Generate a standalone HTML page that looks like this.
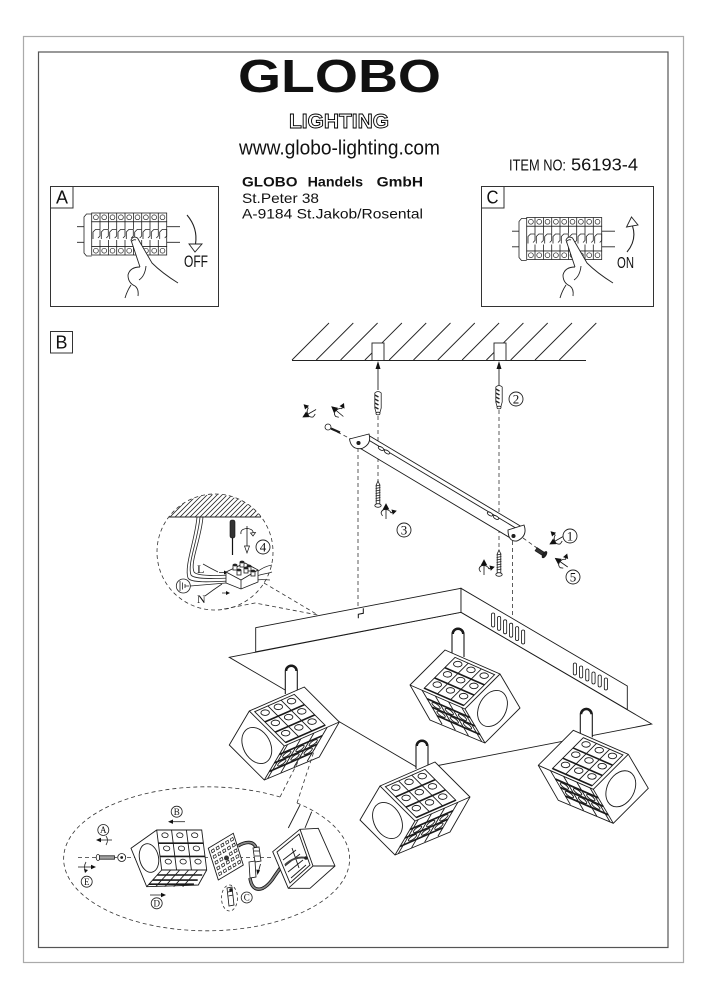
<!DOCTYPE html>
<html><head><meta charset="utf-8">
<style>
html,body{margin:0;padding:0;background:#fff;}
svg{display:block;}
text{font-family:"Liberation Sans",sans-serif;fill:#111;}
.sf{font-family:"Liberation Serif",serif;}
</style></head><body>
<svg width="706" height="1000" viewBox="0 0 706 1000" xmlns="http://www.w3.org/2000/svg">
<defs>
<clipPath id="segclip"><path d="M169,517 A58,58 0 0 1 261,517 Z"/></clipPath>
<g id="lamp" stroke="#1a1a1a" stroke-width="0.9" fill="none">
 <path d="M56,-51V-74A6,6 0 0 1 68,-74V-51" fill="#fff" stroke-width="1.1"/>
 <path d="M56.8,-74A5.2,5.2 0 0 1 67.2,-74" stroke-width="2.4"/>
 <polygon points="0,0 20,-34 75,-58 110,-23 90,12 35,35" fill="#fff"/>
 <polyline points="20,-34 55,1 110,-23"/>
 <line x1="55" y1="1" x2="35" y2="35"/>
 <g transform="matrix(20,-34,35,35,0,0)"><ellipse cx=".5" cy=".5" rx=".37" ry=".37" vector-effect="non-scaling-stroke"/></g>
 <g transform="matrix(55,-24,35,35,20,-34)">
  <rect x=".06" y=".06" width=".72" height=".88" vector-effect="non-scaling-stroke"/>
  <path d="M.06,.353H.78M.06,.646H.78M.06,.94H.78" stroke-width="1.6" vector-effect="non-scaling-stroke"/>
  <path d="M.30,.06V.94M.54,.06V.94" vector-effect="non-scaling-stroke"/>
  <ellipse cx=".18" cy=".17" rx=".065" ry=".065" vector-effect="non-scaling-stroke"/>
  <ellipse cx=".42" cy=".17" rx=".065" ry=".065" vector-effect="non-scaling-stroke"/>
  <ellipse cx=".66" cy=".17" rx=".065" ry=".065" vector-effect="non-scaling-stroke"/>
  <ellipse cx=".18" cy=".463" rx=".065" ry=".065" vector-effect="non-scaling-stroke"/>
  <ellipse cx=".42" cy=".463" rx=".065" ry=".065" vector-effect="non-scaling-stroke"/>
  <ellipse cx=".66" cy=".463" rx=".065" ry=".065" vector-effect="non-scaling-stroke"/>
  <ellipse cx=".18" cy=".756" rx=".065" ry=".065" vector-effect="non-scaling-stroke"/>
  <ellipse cx=".42" cy=".756" rx=".065" ry=".065" vector-effect="non-scaling-stroke"/>
  <ellipse cx=".66" cy=".756" rx=".065" ry=".065" vector-effect="non-scaling-stroke"/>
 </g>
 <g transform="matrix(55,-24,-20,34,55,1)">
  <path d="M0,.25H.78M0,.5H.78M0,.75H.78" stroke-width="1.7" vector-effect="non-scaling-stroke"/>
  <path d="M.06,0V1M.30,0V1M.54,0V1M.78,0V1" vector-effect="non-scaling-stroke"/>
  <ellipse cx=".18" cy=".37" rx=".07" ry=".08" vector-effect="non-scaling-stroke"/>
  <ellipse cx=".42" cy=".37" rx=".07" ry=".08" vector-effect="non-scaling-stroke"/>
  <ellipse cx=".66" cy=".37" rx=".07" ry=".08" vector-effect="non-scaling-stroke"/>
  <ellipse cx=".18" cy=".62" rx=".07" ry=".08" vector-effect="non-scaling-stroke"/>
  <ellipse cx=".42" cy=".62" rx=".07" ry=".08" vector-effect="non-scaling-stroke"/>
  <ellipse cx=".66" cy=".62" rx=".07" ry=".08" vector-effect="non-scaling-stroke"/>
 </g>
</g>
<g id="strip" stroke="#222" stroke-width="0.8" fill="none">
 <rect x="91.7" y="221.7" width="75" height="24.8" fill="#fff"/>
 <rect x="91.7" y="213" width="75" height="8.7" fill="#fff"/>
 <rect x="91.7" y="246.5" width="75" height="8.5" fill="#fff"/>
 <path d="M100,213V229M108.4,213V229M116.7,213V229M125,213V229M133.4,213V229M141.7,213V229M150,213V229M158.3,213V229"/>
 <path d="M100,240V255M108.4,240V255M116.7,240V255M125,240V255M133.4,240V255M141.7,240V255M150,240V255M158.3,240V255"/>
 <g stroke-width="0.7">
 <circle cx="95.9" cy="217.3" r="2.4"/><circle cx="104.2" cy="217.3" r="2.4"/><circle cx="112.5" cy="217.3" r="2.4"/><circle cx="120.9" cy="217.3" r="2.4"/><circle cx="129.2" cy="217.3" r="2.4"/><circle cx="137.5" cy="217.3" r="2.4"/><circle cx="145.9" cy="217.3" r="2.4"/><circle cx="154.2" cy="217.3" r="2.4"/><circle cx="162.5" cy="217.3" r="2.4"/>
 <circle cx="95.9" cy="250.7" r="2.4"/><circle cx="104.2" cy="250.7" r="2.4"/><circle cx="112.5" cy="250.7" r="2.4"/><circle cx="120.9" cy="250.7" r="2.4"/><circle cx="129.2" cy="250.7" r="2.4"/><circle cx="137.5" cy="250.7" r="2.4"/><circle cx="145.9" cy="250.7" r="2.4"/><circle cx="154.2" cy="250.7" r="2.4"/><circle cx="162.5" cy="250.7" r="2.4"/>
 </g>
 <path d="M93,239V232L95.5,229.5H100V236L98,238M101.3,239V232L103.8,229.5H108.3V236L106.3,238M109.7,239V232L112.2,229.5H116.7V236L114.7,238M118,239V232L120.5,229.5H125V236L123,238M126.3,239V232L128.8,229.5H133.3V236L131.3,238M134.7,239V232L137.2,229.5H141.7V236L139.7,238M143,239V232L145.5,229.5H150V236L148,238M151.3,239V232L153.8,229.5H158.3V236L156.3,238M159.7,239V232L162.2,229.5H166.7V236L164.7,238"/>
 <path d="M91.7,214H86.5L84,217V253L86.5,256H91.7"/>
 <path d="M77,226.7H84M77,242.3H84M166.7,226.7H180M166.7,242.3H180"/>
</g>
<g id="hand" stroke="#222" stroke-width="0.9" fill="none">
 <path d="M131,240 Q133,235.5 137.5,238 L152,263 Q162,273 178,283 L178,300 L124,300 Q126,291 131,285 Q127,281 128,275 Q130,267 140,267 Z" fill="#fff" stroke="none"/>
 <path d="M140,267 L131,240 Q133,235.5 137.5,238 L152,263 Q162,273 178,283"/>
 <path d="M140,267 Q130,267 128,275 Q128,283 135,286 M131,285 Q127,291 125,298 M146,266 Q145,276 139,280 M135,286 Q139,289 138,296"/>
 <path d="M132,241 Q134,239 136,240"/>
</g>
<g id="rot" stroke="#111" stroke-width="0.8" fill="none">
 <line x1="-7" y1="0" x2="5" y2="0"/>
 <path d="M8,0 L3,-2.6 L3,2.6 Z" fill="#111"/>
 <path d="M-1,-5 Q3,-4 2.5,0 Q2,4 -1,5"/>
 <path d="M-1,-5 L-4,-3.5 M-1,5 L1,8" />
 <path d="M-2,7 L1,10 L2,6 Z" fill="#111"/>
</g>
</defs>

<rect width="706" height="1000" fill="#fff"/>
<rect x="23.5" y="36.5" width="660" height="926" fill="none" stroke="#aaa" stroke-width="1.2"/>
<rect x="38.5" y="52" width="629.5" height="895.5" fill="none" stroke="#555" stroke-width="1.2"/>

<text x="238" y="92" font-size="46" font-weight="bold" textLength="203" lengthAdjust="spacingAndGlyphs">GLOBO</text>
<text x="289" y="128" font-size="20" font-weight="bold" style="fill:#fff" stroke="#000" stroke-width="0.9" textLength="100" lengthAdjust="spacingAndGlyphs">LIGHTING</text>
<text x="239" y="154.5" font-size="20" textLength="201" lengthAdjust="spacingAndGlyphs">www.globo-lighting.com</text>
<text x="509" y="170.7" font-size="16" textLength="57" lengthAdjust="spacingAndGlyphs">ITEM NO:</text>
<text x="571" y="170.7" font-size="17.5" textLength="67" lengthAdjust="spacingAndGlyphs">56193-4</text>
<text x="242" y="186.7" font-size="14.2" font-weight="bold" textLength="55.5" lengthAdjust="spacingAndGlyphs">GLOBO</text>
<text x="307.6" y="186.7" font-size="14.2" font-weight="bold" textLength="55.5" lengthAdjust="spacingAndGlyphs">Handels</text>
<text x="376.6" y="186.7" font-size="14.2" font-weight="bold" textLength="46.4" lengthAdjust="spacingAndGlyphs">GmbH</text>
<text x="242" y="203" font-size="14" textLength="77" lengthAdjust="spacingAndGlyphs">St.Peter 38</text>
<text x="242" y="218.7" font-size="14" textLength="181" lengthAdjust="spacingAndGlyphs">A-9184 St.Jakob/Rosental</text>

<rect x="50.5" y="186.5" width="168" height="120" fill="none" stroke="#333"/>
<rect x="50.5" y="186.5" width="22.5" height="21.5" fill="none" stroke="#333"/>
<text x="56" y="203.5" font-size="18" textLength="12" lengthAdjust="spacingAndGlyphs">A</text>
<use href="#strip"/>
<use href="#hand"/>
<path d="M187,215 Q198,228 195.5,244" fill="none" stroke="#222" stroke-width="1.1"/>
<polygon points="189,244 202,244 195,252" fill="#fff" stroke="#222" stroke-width="0.9"/>
<text x="184" y="267" font-size="16.5" textLength="24" lengthAdjust="spacingAndGlyphs">OFF</text>

<rect x="481.5" y="186.5" width="172" height="120" fill="none" stroke="#333"/>
<rect x="481.5" y="186.5" width="22.5" height="21.5" fill="none" stroke="#333"/>
<text x="486.5" y="203.5" font-size="18" textLength="12" lengthAdjust="spacingAndGlyphs">C</text>
<use href="#strip" transform="translate(435,4.5)"/>
<use href="#hand" transform="translate(435,0)"/>
<path d="M627,252 Q637,240 632.5,226" fill="none" stroke="#222" stroke-width="1.1"/>
<polygon points="626.5,227 638,225 631.5,217" fill="#fff" stroke="#222" stroke-width="0.9"/>
<text x="617" y="268" font-size="15.5" textLength="17" lengthAdjust="spacingAndGlyphs">ON</text>

<rect x="50.5" y="331.5" width="22" height="21.5" fill="none" stroke="#333"/>
<text x="55.5" y="348.5" font-size="18" textLength="12" lengthAdjust="spacingAndGlyphs">B</text>

<g stroke="#222" stroke-width="0.9" fill="none">
<path d="M292,360L329,323M316.3,360L353.3,323M340.6,360L377.6,323M364.9,360L401.9,323M389.2,360L426.2,323M413.5,360L450.5,323M437.8,360L474.8,323M462.1,360L499.1,323M486.4,360L523.4,323M510.7,360L547.7,323M535,360L572,323M559.3,360L596.3,323"/>
<line x1="292" y1="360.5" x2="586" y2="360.5"/>
<rect x="372" y="343" width="12" height="17.5" fill="#fff"/>
<rect x="494" y="343" width="12" height="17.5" fill="#fff"/>
<line x1="378" y1="390" x2="378" y2="367"/>
<line x1="499" y1="386" x2="499" y2="367"/>
</g>
<path d="M378,361 L375.5,369 L380.5,369 Z M499,361 L496.5,369 L501.5,369 Z" fill="#111"/>

<g stroke="#222" stroke-width="0.8" fill="#fff">
<g transform="translate(378,392)"><path d="M-3.2,1 Q0,-2 3.2,1 L3.2,16 L1.8,21 H-1.8 L-3.2,16 Z"/><path d="M-3.2,3 L0.5,5 M-3.2,7 L0.5,9 M-3.2,11 L0.5,13 M-3.2,15 L0.5,17" stroke-width="1.4"/><ellipse cy="21.5" rx="2" ry="1.3"/></g>
<g transform="translate(499,386)"><path d="M-3.2,1 Q0,-2 3.2,1 L3.2,16 L1.8,21 H-1.8 L-3.2,16 Z"/><path d="M-3.2,3 L0.5,5 M-3.2,7 L0.5,9 M-3.2,11 L0.5,13 M-3.2,15 L0.5,17" stroke-width="1.4"/><ellipse cy="21.5" rx="2" ry="1.3"/></g>
</g>

<g stroke="#333" stroke-width="0.8" fill="none" stroke-dasharray="4,3">
<line x1="378" y1="416" x2="378" y2="481"/>
<line x1="499" y1="410" x2="499" y2="549"/>
<line x1="358" y1="448" x2="358" y2="607"/>
<line x1="512.5" y1="541" x2="512.5" y2="617"/>
<line x1="331" y1="429" x2="351" y2="439"/>
<line x1="523" y1="538" x2="537" y2="548"/>
</g>

<g stroke="#1a1a1a" stroke-width="0.9" fill="#fff">
<polygon points="368,435 522,527 512,539 358,447"/>
<line x1="366" y1="438.5" x2="519" y2="530"/>
<path d="M349.5,439 L369,434 Q372,444 362,448.5 Q351,450 349.5,439 Z"/>
<circle cx="358.5" cy="443" r="1.6" fill="#222"/>
<path d="M508,530 L524,525 Q528,536 517,541 Q508,542 508,530 Z"/>
<circle cx="513.5" cy="536" r="1.6" fill="#222"/>
<ellipse cx="381" cy="448.5" rx="3" ry="1.5" transform="rotate(31 381 448.5)"/>
<ellipse cx="387" cy="452" rx="3" ry="1.5" transform="rotate(31 387 452)"/>
<ellipse cx="490" cy="514" rx="3" ry="1.5" transform="rotate(31 490 514)"/>
<ellipse cx="496" cy="517.5" rx="3" ry="1.5" transform="rotate(31 496 517.5)"/>
</g>

<g stroke="#1a1a1a" stroke-width="0.8" fill="#fff">
<g transform="translate(378,482)"><path d="M0,-1 L1.8,3 V22 H-1.8 V3 Z"/><path d="M-2.4,4 L2.4,3 M-2.4,6.5 L2.4,5.5 M-2.4,9 L2.4,8 M-2.4,11.5 L2.4,10.5 M-2.4,14 L2.4,13 M-2.4,16.5 L2.4,15.5 M-2.4,19 L2.4,18"/><ellipse cy="23.5" rx="3.2" ry="1.8"/></g>
<g transform="translate(499,551)"><path d="M0,-1 L1.8,3 V22 H-1.8 V3 Z"/><path d="M-2.4,4 L2.4,3 M-2.4,6.5 L2.4,5.5 M-2.4,9 L2.4,8 M-2.4,11.5 L2.4,10.5 M-2.4,14 L2.4,13 M-2.4,16.5 L2.4,15.5 M-2.4,19 L2.4,18"/><ellipse cy="23.5" rx="3.2" ry="1.8"/></g>
<g transform="translate(542,553) rotate(33)"><rect x="-7" y="-1.8" width="9" height="3.6" fill="#333"/><ellipse cx="3" rx="1.6" ry="3.6" fill="#222"/></g>
<circle cx="328" cy="427" r="3"/>
<path d="M331,428.5 L340,432.5" stroke-width="2.2"/>
</g>

<use href="#rot" transform="translate(310,413) rotate(150)"/>
<use href="#rot" transform="translate(338,412) rotate(220)"/>
<use href="#rot" transform="translate(386,512) rotate(-90)"/>
<use href="#rot" transform="translate(484,568) rotate(-90)"/>
<use href="#rot" transform="translate(557,540) rotate(150)"/>
<use href="#rot" transform="translate(562,563) rotate(215)"/>

<g stroke="#222" stroke-width="0.9" fill="none">
<circle cx="516" cy="399" r="7"/><circle cx="404" cy="530" r="7"/><circle cx="570" cy="536" r="7"/><circle cx="573" cy="577" r="7"/><circle cx="263" cy="547" r="7"/>
</g>
<g font-size="13" text-anchor="middle">
<text class="sf" x="516" y="403.5">2</text><text class="sf" x="404" y="534.5">3</text><text class="sf" x="570" y="540.5">1</text><text class="sf" x="573" y="581.5">5</text><text class="sf" x="263" y="551.5">4</text>
</g>

<g clip-path="url(#segclip)" stroke="#222" stroke-width="0.8">
<path d="M150,517L173,494M155,517L178,494M160,517L183,494M165,517L188,494M170,517L193,494M175,517L198,494M180,517L203,494M185,517L208,494M190,517L213,494M195,517L218,494M200,517L223,494M205,517L228,494M210,517L233,494M215,517L238,494M220,517L243,494M225,517L248,494M230,517L253,494M235,517L258,494M240,517L263,494M245,517L268,494M250,517L273,494M255,517L278,494M260,517L283,494"/>
</g>
<line x1="169" y1="517" x2="261" y2="517" stroke="#222" stroke-width="0.9"/>
<circle cx="215" cy="552" r="58" fill="none" stroke="#333" stroke-width="0.8" stroke-dasharray="4,3"/>
<g stroke="#222" stroke-width="0.8" fill="none">
<path d="M197,517 C195,540 184,566 188,578 C191,583 210,582 229,581"/>
<path d="M200,517 C198,540 187,564 191,575 C194,579 210,579 229,578"/>
<path d="M203,517 C201,540 190,562 194,572 C197,576 212,576 229,575"/>
<path d="M257,572 C262,568 266,566 272,565 M257,576 C262,574 266,574 272,572 M257,580 C262,579 266,580 270,580"/>
<circle cx="183.3" cy="586" r="7"/>
<path d="M180,581V591M182.5,582.5V589.5M185,584V588M185,586H189"/>
<path d="M190.3,586 L226,583"/>
<path d="M203,564 Q210,568 218,572"/>
<path d="M205,596 Q213,590 222,584"/>
<path d="M219,572.5 H226 M222,593 H228"/>
</g>
<path d="M228,572.5 L224,570.5 V574.5 Z M230,593 L226,591 V595 Z" fill="#111"/>
<text class="sf" x="197" y="573" font-size="12">L</text>
<text class="sf" x="197" y="603" font-size="12">N</text>
<rect x="230" y="520" width="5" height="18" rx="2" fill="#333" stroke="#111" stroke-width="0.6"/>
<line x1="232.5" y1="538" x2="232.5" y2="555" stroke="#111" stroke-width="1.2"/>
<g stroke="#111" stroke-width="0.8" fill="none">
<line x1="247" y1="526" x2="247" y2="548"/>
<path d="M241,534 Q240,529 247,528.5 Q254,529 253,534"/>
</g>
<path d="M247,553 L244.5,546 L249.5,546 Z M253,536 L250.5,533 L255.5,532.5 Z" fill="#fff" stroke="#111" stroke-width="0.7"/>
<g stroke="#1a1a1a" stroke-width="0.8" fill="#fff">
<polygon points="226,572 245,563 258,570 258,582 241,589 226,583"/>
<polyline points="226,572 241,580 258,570" fill="none"/>
<line x1="241" y1="580" x2="241" y2="589"/>
<rect x="233" y="565" width="4" height="5"/><rect x="240" y="562" width="4" height="5"/><rect x="247" y="566" width="4" height="5"/>
<rect x="237" y="570" width="4" height="5"/><rect x="244" y="568" width="4" height="5"/><rect x="251" y="571" width="4" height="5"/>
</g>
<g fill="#222">
<ellipse cx="235" cy="565" rx="2.2" ry="1.4"/><ellipse cx="242" cy="562" rx="2.2" ry="1.4"/><ellipse cx="249" cy="566" rx="2.2" ry="1.4"/>
<ellipse cx="239" cy="570" rx="2.2" ry="1.4"/><ellipse cx="246" cy="568" rx="2.2" ry="1.4"/><ellipse cx="253" cy="571" rx="2.2" ry="1.4"/>
</g>
<g stroke="#333" stroke-width="0.8" fill="none" stroke-dasharray="4,3">
<path d="M264,583 L318,615"/>
<path d="M224,609 L255,603 L318,615"/>
</g>

<g stroke="#1a1a1a" stroke-width="0.9" fill="#fff">
<polygon points="229.3,657.3 461,612.3 651.7,724 420,769"/>
<polygon points="255.7,627.7 461,588.3 461,612.3 255.7,651.8"/>
<polygon points="461,588.3 627.3,686 627.3,709.5 461,612.3"/>
</g>
<path d="M363.3,608.3 V613.3 L358.3,614.3 V618.3" fill="none" stroke="#111" stroke-width="1"/>
<g stroke="#111" stroke-width="0.8" fill="#fff">
<rect x="491.5" y="613" width="3.2" height="14" rx="1.6"/>
<rect x="497.5" y="616.4" width="3.2" height="14" rx="1.6"/>
<rect x="503.5" y="619.8" width="3.2" height="14" rx="1.6"/>
<rect x="509.5" y="623.2" width="3.2" height="14" rx="1.6"/>
<rect x="515.5" y="626.6" width="3.2" height="14" rx="1.6"/>
<rect x="521.5" y="630" width="3.2" height="14" rx="1.6"/>
<rect x="573.3" y="663" width="3.2" height="12" rx="1.6"/>
<rect x="579.5" y="666" width="3.2" height="12" rx="1.6"/>
<rect x="585.7" y="669" width="3.2" height="12" rx="1.6"/>
<rect x="591.9" y="672" width="3.2" height="12" rx="1.6"/>
<rect x="598.1" y="675" width="3.2" height="12" rx="1.6"/>
<rect x="604.3" y="678" width="3.2" height="12" rx="1.6"/>
</g>

<use href="#lamp" transform="translate(520,708) scale(-1,1)"/>
<use href="#lamp" transform="translate(229.3,745)"/>
<use href="#lamp" transform="translate(648.3,788.3) scale(-1,1)"/>
<use href="#lamp" transform="translate(360,820)"/>

<g stroke="#333" stroke-width="0.8" fill="none" stroke-dasharray="4,3">
<path d="M297,803 A143,72 0 1 1 280,797"/>
<line x1="280" y1="797" x2="303" y2="752"/>
<line x1="297" y1="803" x2="317" y2="742"/>
<line x1="78" y1="857.5" x2="272" y2="857.5"/>
</g>
<g stroke="#1a1a1a" stroke-width="0.9" fill="#fff">
<polygon points="131,848.3 156.7,830 201.7,830 206.7,870 198.3,885 146.7,886.7"/>
<polyline points="156.7,830 161.7,870 146.7,886.7" fill="none"/>
<line x1="161.7" y1="870" x2="206.7" y2="870"/>
<ellipse cx="149" cy="858" rx="9.5" ry="14.5" transform="rotate(-12 149 858)" fill="none"/>
</g>
<g transform="matrix(45,0,5,40,156.7,830)" stroke="#1a1a1a" fill="none">
 <path d="M.33,0V1M.66,0V1" stroke-width="0.9" vector-effect="non-scaling-stroke"/>
 <path d="M0,.33H1M0,.66H1" stroke-width="1.6" vector-effect="non-scaling-stroke"/>
 <ellipse cx=".17" cy=".13" rx=".07" ry=".06" stroke-width=".8" vector-effect="non-scaling-stroke"/>
 <ellipse cx=".5" cy=".13" rx=".07" ry=".06" stroke-width=".8" vector-effect="non-scaling-stroke"/>
 <ellipse cx=".83" cy=".13" rx=".07" ry=".06" stroke-width=".8" vector-effect="non-scaling-stroke"/>
 <ellipse cx=".17" cy=".46" rx=".07" ry=".06" stroke-width=".8" vector-effect="non-scaling-stroke"/>
 <ellipse cx=".5" cy=".46" rx=".07" ry=".06" stroke-width=".8" vector-effect="non-scaling-stroke"/>
 <ellipse cx=".83" cy=".46" rx=".07" ry=".06" stroke-width=".8" vector-effect="non-scaling-stroke"/>
 <ellipse cx=".17" cy=".79" rx=".07" ry=".06" stroke-width=".8" vector-effect="non-scaling-stroke"/>
 <ellipse cx=".5" cy=".79" rx=".07" ry=".06" stroke-width=".8" vector-effect="non-scaling-stroke"/>
 <ellipse cx=".83" cy=".79" rx=".07" ry=".06" stroke-width=".8" vector-effect="non-scaling-stroke"/>
</g>
<g transform="matrix(45,0,-15,16.7,161.7,870)" stroke="#1a1a1a" fill="none">
 <path d="M0,.3H1M0,.6H1M0,.85H1" stroke-width="1.6" vector-effect="non-scaling-stroke"/>
 <path d="M.2,0V1M.4,0V1M.6,0V1M.8,0V1" stroke-width="0.9" vector-effect="non-scaling-stroke"/>
</g>
<g stroke="#1a1a1a" stroke-width="0.8" fill="#fff">
<ellipse cx="98" cy="857.5" rx="1.8" ry="3"/>
<rect x="99.5" y="855.8" width="15" height="3.4"/>
<path d="M101,855.8V859.2M103,855.8V859.2M105,855.8V859.2M107,855.8V859.2M109,855.8V859.2M111,855.8V859.2M113,855.8V859.2"/>
<circle cx="121.7" cy="857.5" r="4"/>
<circle cx="121.7" cy="857.5" r="1" fill="#222"/>
</g>
<g transform="matrix(25,-15,10,31.7,208.3,848.3)" stroke="#1a1a1a" fill="none">
 <rect x="0" y="0" width="1" height="1" fill="#fff" stroke-width=".9" vector-effect="non-scaling-stroke"/>
 <path d="M.08,.1h.1v.08h-.1zM.27,.1h.1v.08h-.1zM.46,.1h.1v.08h-.1zM.65,.1h.1v.08h-.1zM.84,.1h.1v.08h-.1zM.08,.28h.1v.08h-.1zM.27,.28h.1v.08h-.1zM.46,.28h.1v.08h-.1zM.65,.28h.1v.08h-.1zM.84,.28h.1v.08h-.1zM.08,.46h.1v.08h-.1zM.27,.46h.1v.08h-.1zM.65,.46h.1v.08h-.1zM.84,.46h.1v.08h-.1zM.08,.64h.1v.08h-.1zM.27,.64h.1v.08h-.1zM.46,.64h.1v.08h-.1zM.65,.64h.1v.08h-.1zM.84,.64h.1v.08h-.1zM.08,.82h.1v.08h-.1zM.27,.82h.1v.08h-.1zM.46,.82h.1v.08h-.1zM.65,.82h.1v.08h-.1zM.84,.82h.1v.08h-.1z" stroke-width=".7" vector-effect="non-scaling-stroke"/>
</g>
<circle cx="226.5" cy="858" r="2.5" fill="#333"/>
<g fill="none">
<path d="M238,846 C246,841 254,841 256,848" stroke="#111" stroke-width="3.4"/>
<path d="M238,846 C246,841 254,841 256,848" stroke="#888" stroke-width="1.8"/>
<path d="M250,878 C252,892 262,893 272,880 C280,868 290,855 297,848" stroke="#111" stroke-width="3.4"/>
<path d="M250,878 C252,892 262,893 272,880 C280,868 290,855 297,848" stroke="#888" stroke-width="1.8"/>
</g>
<g stroke="#111" stroke-width="0.8" fill="#fff">
<polygon points="253,848 259,847 261,861 255,862"/>
<polygon points="249,862 255,861 256,877 250,878"/>
<path d="M254,851 H259 M255,856 H260" />
</g>
<path d="M260.5,864 L258,873" stroke="#111" stroke-width="0.8"/>
<path d="M257.5,875 L256.3,869.5 L260,870.3 Z" fill="#111"/>
<ellipse cx="229.5" cy="898" rx="8" ry="13" fill="none" stroke="#333" stroke-width="0.8" stroke-dasharray="3,2.5"/>
<g stroke="#111" stroke-width="0.8" fill="#fff">
<polygon points="227,888 232,887 234,905 229,906"/>
<path d="M228,892 L232.5,891 M228.5,896 L233,895" />
<circle cx="231" cy="890" r="1.3" fill="#222"/>
</g>
<g stroke="#1a1a1a" stroke-width="0.9" fill="#fff">
<line x1="288.3" y1="828" x2="300" y2="805"/>
<line x1="305" y1="828" x2="311.7" y2="811.7"/>
<polygon points="272.7,851.7 300,829.3 318.3,828.3 335,866 310,888.3 288.3,888.3"/>
<polyline points="300,829.3 313,866 288.3,888.3" fill="none"/>
<line x1="313" y1="866" x2="335" y2="866"/>
<polygon points="277,852 299,834 310,865 290,883" fill="none"/>
<path d="M283,860 L296,850 M285,866 L300,854 M288,872 L303,860 M291,878 L306,865 M292,848 L299,868" fill="none"/>
</g>
<path d="M285,865 C290,860 298,856 306,858" stroke="#444" stroke-width="2" fill="none"/>
<circle cx="306" cy="858" r="1.8" fill="#222"/>

<g stroke="#222" stroke-width="0.8" fill="none">
<circle cx="103.3" cy="830" r="5.5"/><circle cx="176.7" cy="811.7" r="5.5"/><circle cx="246.7" cy="897.5" r="5.5"/><circle cx="156.7" cy="903.3" r="5.5"/><circle cx="86.7" cy="881.7" r="5.5"/>
<line x1="185" y1="821.7" x2="171" y2="821.7"/>
<line x1="150" y1="895" x2="163" y2="895"/>
<line x1="112" y1="840" x2="99" y2="840"/>
<path d="M106,836 Q109,840 106,845"/>
<line x1="78" y1="867" x2="93" y2="867"/>
<path d="M86,862 Q83,867 86,872"/>
</g>
<path d="M168,821.7 L173,819.5 V823.9 Z M166,895 L161,892.8 V897.2 Z M96,840 L101,837.8 V842.2 Z M96,867 L91,864.8 V869.2 Z M85,873 L84,869 L88,870 Z" fill="#111"/>
<g font-size="9" text-anchor="middle">
<text class="sf" x="103.3" y="833.2">A</text><text class="sf" x="176.7" y="814.9">B</text><text class="sf" x="246.7" y="900.7">C</text><text class="sf" x="156.7" y="906.5">D</text><text class="sf" x="86.7" y="884.9">E</text>
</g>
</svg>
</body></html>
